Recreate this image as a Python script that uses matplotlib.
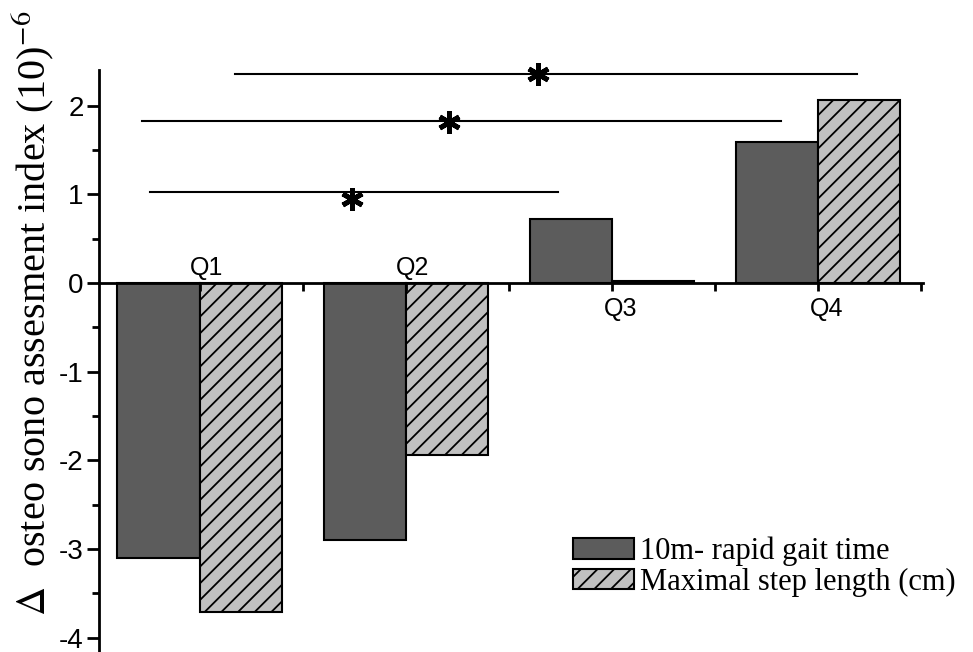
import numpy as np
import matplotlib.pyplot as plt
from matplotlib.patches import Patch

# Data
quartiles = ["Q1", "Q2", "Q3", "Q4"]
gait_time = [-3.10, -2.90, 0.72, 1.59]
step_length = [-3.71, -1.94, 0.02, 2.06]
series_labels = ["10m- rapid gait time", "Maximal step length (cm)"]

# significance lines: (x start, x end, y level) and star positions
sig_x0 = [-0.24, -0.28, 0.17]
sig_x1 = [1.74, 2.82, 3.19]
sig_y = [1.03, 1.82, 2.36]
star_x = [0.74, 1.21, 1.64]
star_y = [0.95, 1.81, 2.35]

plt.rcParams["hatch.linewidth"] = 1.3
plt.rcParams["axes.unicode_minus"] = False
plt.rcParams["mathtext.fontset"] = "stix"

fig = plt.figure(figsize=(9.73, 6.52), dpi=100)
ax = fig.add_axes([0.1017, 0.0, 0.847, 0.8926])

x = np.arange(len(quartiles))
w = 0.4
ax.bar(x - w / 2, gait_time, w, color="#5c5c5c", edgecolor="black", linewidth=1.5)
ax.bar(x + w / 2, step_length, w, color="#c0c0c0", edgecolor="black",
       linewidth=1.5, hatch="//")

# quartile labels: above the axis for negative groups, below for positive
for i, q in enumerate(quartiles):
    if min(gait_time[i], step_length[i]) < 0:
        ax.text(i + 0.03, 0.03, q, ha="center", va="bottom", fontsize=18,
                family="Liberation Sans")
    else:
        ax.text(i + 0.04, -0.16, q, ha="center", va="top", fontsize=18,
                family="Liberation Sans")

for a, b, y in zip(sig_x0, sig_x1, sig_y):
    ax.plot([a, b], [y, y], color="black", linewidth=1.5, clip_on=False)
ax.plot(star_x, star_y, linestyle="none", marker=(6, 2, 0), markersize=16,
        markeredgewidth=3.5, color="black", clip_on=False)

ax.set_xlim(-0.49, 3.51)
ax.set_ylim(-4.16, 2.40)

ax.spines["top"].set_visible(False)
ax.spines["right"].set_visible(False)
ax.spines["bottom"].set_position(("data", 0))
ax.spines["left"].set_linewidth(2)
ax.spines["bottom"].set_linewidth(2)

ax.set_xticks([0.5, 1.5, 2.5, 3.5])
ax.set_xticks([0, 1, 2, 3], minor=True)
ax.set_xticklabels([])
ax.tick_params(axis="x", which="both", direction="out", length=6, width=2)

ax.set_yticks([-4, -3, -2, -1, 0, 1, 2])
ax.set_yticks(np.arange(-4, 2.5, 0.5), minor=True)
ax.tick_params(axis="y", which="major", length=9, width=2, labelsize=20, pad=2)
ax.tick_params(axis="y", which="minor", length=5, width=2)
for lab in ax.get_yticklabels():
    lab.set_family("Liberation Sans")

fig.text(0.033, 0.52, "$\\Delta$  osteo sono assesment index (10)$^{-6}$",
         rotation=90, ha="center", va="center", fontsize=29,
         family="Liberation Serif")

handles = [Patch(facecolor="#5c5c5c", edgecolor="black", linewidth=1.5),
           Patch(facecolor="#c0c0c0", edgecolor="black", linewidth=1.5, hatch="//")]
ax.legend(handles, series_labels, loc="lower left", frameon=False,
          bbox_to_anchor=(0.575, 0.095), borderpad=0, borderaxespad=0,
          handlelength=2.0, handleheight=0.65, handletextpad=0.2,
          labelspacing=0.05, prop={"family": "Liberation Serif", "size": 22})

fig.savefig("out.png", dpi=100)
